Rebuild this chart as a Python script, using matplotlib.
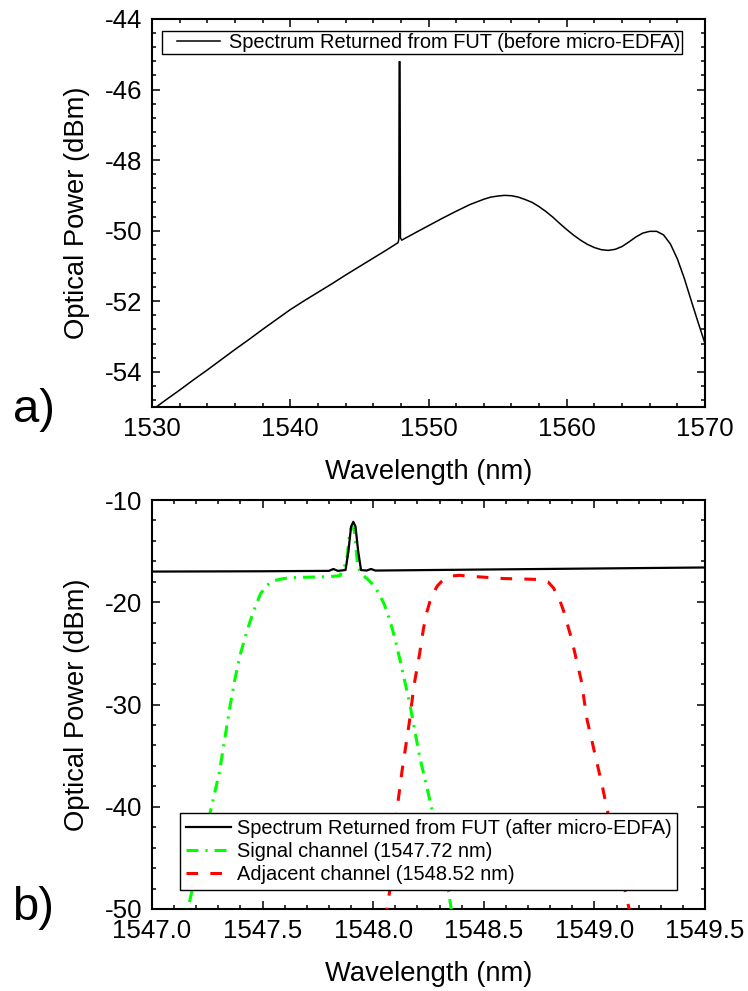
import matplotlib
matplotlib.use("Agg")
import matplotlib.pyplot as plt
from matplotlib.ticker import MultipleLocator, AutoMinorLocator, FormatStrFormatter
from matplotlib.legend_handler import HandlerLine2D

plt.rcParams['font.family'] = ['Liberation Sans', 'DejaVu Sans']
plt.rcParams['axes.unicode_minus'] = False

# ---- Panel a) data ----
wl_a = [1530.0, 1531, 1532, 1533, 1534, 1535, 1536, 1537, 1538, 1539, 1540,
        1541, 1542, 1543, 1544, 1545, 1546, 1547, 1547.8, 1547.85, 1547.88,
        1547.94, 1547.97, 1548.06, 1549, 1550, 1551, 1552, 1553, 1554, 1554.5,
        1555, 1555.5, 1556, 1556.5, 1557, 1557.5, 1558, 1558.5, 1559, 1559.5,
        1560, 1560.5, 1561, 1561.5, 1562, 1562.5, 1563, 1563.5, 1564, 1564.5,
        1565, 1565.5, 1566, 1566.5, 1567, 1567.5, 1568, 1568.5, 1569, 1569.5,
        1570]
pw_a = [-55.09, -54.80, -54.52, -54.23, -53.95, -53.66, -53.37, -53.09, -52.80,
        -52.52, -52.24, -51.99, -51.75, -51.51, -51.26, -51.02, -50.78, -50.54,
        -50.34, -50.25, -45.21, -45.21, -50.20, -50.27, -50.07, -49.86, -49.65,
        -49.45, -49.26, -49.11, -49.05, -49.02, -49.00, -49.01, -49.05, -49.12,
        -49.20, -49.32, -49.46, -49.62, -49.80, -49.97, -50.13, -50.27, -50.39,
        -50.48, -50.54, -50.56, -50.53, -50.45, -50.32, -50.18, -50.07, -50.02,
        -50.02, -50.12, -50.38, -50.80, -51.35, -51.98, -52.60, -53.20]
label_a = 'Spectrum Returned from FUT (before micro-EDFA)'

# ---- Panel b) data ----
wl_fut = [1547.0, 1547.5, 1547.8, 1547.82, 1547.84, 1547.875, 1547.888, 1547.9,
          1547.91, 1547.92, 1547.932, 1547.945, 1547.97, 1547.99, 1548.01,
          1548.5, 1549.0, 1549.5]
pw_fut = [-17.0, -16.97, -16.93, -16.75, -16.93, -16.85, -15.0, -12.6, -12.13,
          -12.6, -15.0, -16.85, -16.9, -16.75, -16.9, -16.8, -16.7, -16.6]
label_fut = 'Spectrum Returned from FUT (after micro-EDFA)'

wl_sig = [1547.14, 1547.164, 1547.178, 1547.269, 1547.304, 1547.354, 1547.375,
          1547.398, 1547.42, 1547.443, 1547.466, 1547.49, 1547.515, 1547.55,
          1547.59, 1547.63, 1547.7, 1547.8, 1547.85, 1547.88, 1547.895,
          1547.905, 1547.915, 1547.93, 1547.95, 1547.975, 1548.0, 1548.025,
          1548.05, 1548.076, 1548.10, 1548.125, 1548.166, 1548.21, 1548.263,
          1548.307, 1548.342, 1548.36]
pw_sig = [-52.0, -49.8, -48.5, -40.0, -36.7, -30.0, -27.5, -25.2, -23.5, -21.9,
          -20.5, -19.2, -18.4, -17.9, -17.7, -17.6, -17.55, -17.5, -17.4, -16.0,
          -13.0, -12.6, -13.0, -16.5, -17.3, -17.75, -18.3, -19.1, -20.2, -21.8,
          -23.7, -26.0, -30.0, -35.1, -40.0, -44.3, -48.5, -51.0]
label_sig = 'Signal channel (1547.72 nm)'

wl_adj = [1548.055, 1548.061, 1548.075, 1548.105, 1548.131, 1548.163, 1548.184,
          1548.21, 1548.227, 1548.242, 1548.257, 1548.272, 1548.29, 1548.31,
          1548.33, 1548.36, 1548.39, 1548.468, 1548.588, 1548.70, 1548.75,
          1548.79, 1548.815, 1548.84, 1548.86, 1548.897, 1548.94, 1548.967,
          1549.002, 1549.037, 1549.055, 1549.099, 1549.157, 1549.165]
pw_adj = [-51.0, -50.0, -48.2, -40.7, -36.4, -31.8, -28.2, -25.0, -22.6, -21.0,
          -19.9, -19.1, -18.4, -17.95, -17.62, -17.42, -17.37, -17.5, -17.68,
          -17.74, -17.78, -18.0, -18.6, -19.6, -20.8, -23.6, -27.6, -31.5,
          -34.8, -38.1, -40.0, -44.3, -50.0, -51.0]
label_adj = 'Adjacent channel (1548.52 nm)'

TICK_FS = 18.6
LABEL_FS = 19.7
LEG_FS = 14.4

fig = plt.figure(figsize=(7.48, 9.91), dpi=100)
ax1 = fig.add_axes([152/748, 1-407/991, 553/748, 388/991])
ax2 = fig.add_axes([152/748, 1-909/991, 553/748, 409/991])

def style(ax):
    for s in ax.spines.values():
        s.set_linewidth(1.5)
    ax.tick_params(which='both', direction='in', top=True, right=True,
                   labelsize=TICK_FS, pad=7, width=1.1)
    ax.tick_params(which='major', length=5.5)
    ax.tick_params(which='minor', length=3.0)
    ax.xaxis.set_minor_locator(AutoMinorLocator(5))
    ax.yaxis.set_minor_locator(AutoMinorLocator(5))

# Panel a
line_a, = ax1.plot(wl_a, pw_a, color='black', lw=1.1, label=label_a)
ax1.set_xlim(1530, 1570)
ax1.set_ylim(-55, -44)
ax1.xaxis.set_major_locator(MultipleLocator(10))
ax1.yaxis.set_major_locator(MultipleLocator(2))
style(ax1)
ax1.set_xlabel('Wavelength (nm)', fontsize=LABEL_FS, labelpad=13)
ax1.set_ylabel('Optical Power (dBm)', fontsize=LABEL_FS)
ax1.yaxis.set_label_coords(-0.113, 0.5)
leg1 = ax1.legend(loc='upper left', bbox_to_anchor=(10/553, 1-12/388),
                  borderaxespad=0, fontsize=LEG_FS, frameon=True, fancybox=False,
                  edgecolor='black', framealpha=1, handlelength=2.8,
                  handletextpad=0.45, borderpad=0.1,
                  handler_map={line_a: HandlerLine2D(xpad=0.65)})
leg1.get_frame().set_linewidth(1.0)

# Panel b
ax2.plot(wl_fut, pw_fut, color='black', lw=1.6, label=label_fut, zorder=4)
ax2.plot(wl_sig, pw_sig, color='#00ff00', lw=2.2, label=label_sig,
         dashes=(3.9, 2.3, 0.7, 2.3), zorder=3)
ax2.plot(wl_adj, pw_adj, color='#ff0000', lw=2.2, label=label_adj,
         dashes=(3.8, 4.0), zorder=3)
ax2.set_xlim(1547.0, 1549.5)
ax2.set_ylim(-50, -10)
ax2.xaxis.set_major_locator(MultipleLocator(0.5))
ax2.xaxis.set_major_formatter(FormatStrFormatter('%.1f'))
ax2.yaxis.set_major_locator(MultipleLocator(10))
style(ax2)
ax2.set_xlabel('Wavelength (nm)', fontsize=LABEL_FS, labelpad=13)
ax2.set_ylabel('Optical Power (dBm)', fontsize=LABEL_FS)
ax2.yaxis.set_label_coords(-0.113, 0.5)
leg2 = ax2.legend(loc='lower left', bbox_to_anchor=(27.6/553, 19/409),
                  borderaxespad=0, fontsize=LEG_FS, frameon=True, fancybox=False,
                  edgecolor='black', framealpha=1, handlelength=2.25,
                  handletextpad=0.3, borderpad=0.3, labelspacing=0.2)
leg2.get_frame().set_linewidth(1.0)

fig.text(13/748, 1-422/991, 'a)', fontsize=34, va='baseline', ha='left')
fig.text(12/748, 1-920/991, 'b)', fontsize=34, va='baseline', ha='left')

fig.savefig('out.png', dpi=100)
